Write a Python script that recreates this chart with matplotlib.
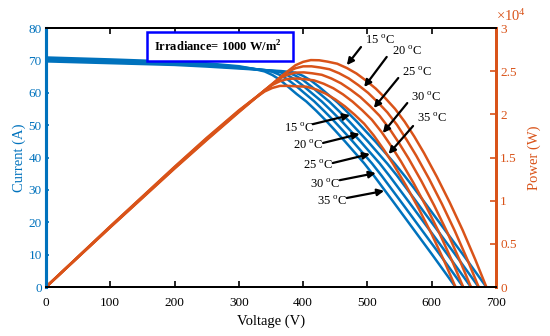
import numpy as np
import matplotlib
matplotlib.use('Agg')
import matplotlib.pyplot as plt
from matplotlib.ticker import FuncFormatter
from matplotlib.patches import Rectangle

plt.rcParams['font.family'] = ['Liberation Serif', 'DejaVu Serif']
plt.rcParams['mathtext.fontset'] = 'custom'
plt.rcParams['mathtext.rm'] = 'Liberation Serif'
plt.rcParams['mathtext.bf'] = 'Liberation Serif:bold'

blue = '#0072BD'
orange = '#D95319'

temps = ['15', '20', '25', '30', '35']

# I-V curves (voltage in V, current in A)
v15 = [0, 100, 200, 250, 300, 340, 366, 388, 400, 412, 425, 438, 453, 468, 483, 498, 513, 528,
       543, 558, 573, 588, 608, 628, 648, 668, 685]
i15 = [69.7, 69.15, 68.6, 68.1, 67.5, 67.0, 66.7, 66.2, 65.2, 63.8, 61.8, 59.6, 57.1, 54.2, 51.2,
       48.0, 44.8, 41.4, 38.0, 34.3, 30.4, 26.4, 21.0, 15.6, 10.2, 4.7, 0]

v20 = [0, 100, 200, 250, 300, 340, 376, 388, 400, 413, 426, 441, 456, 471, 486, 501, 516, 531,
       546, 561, 576, 596, 616, 636, 656, 673]
i20 = [70.0, 69.4, 68.85, 68.35, 67.7, 67.0, 66.3, 65.3, 63.9, 61.9, 59.7, 57.2, 54.3, 51.3, 48.1,
       44.9, 41.5, 38.1, 34.4, 30.4, 26.4, 21.0, 15.6, 10.2, 4.7, 0]

v25 = [0, 100, 200, 250, 300, 340, 364, 376, 388, 401, 414, 429, 444, 459, 474, 489, 504, 519,
       534, 549, 564, 584, 604, 624, 644, 661]
i25 = [70.3, 69.7, 69.1, 68.6, 67.85, 67.0, 66.4, 65.4, 64.0, 62.0, 59.8, 57.3, 54.4, 51.4, 48.2,
       45.0, 41.6, 38.2, 34.4, 30.4, 26.4, 21.0, 15.6, 10.2, 4.7, 0]

v30 = [0, 100, 200, 250, 300, 330, 352, 364, 376, 389, 402, 417, 432, 447, 462, 477, 492, 507,
       522, 537, 552, 572, 592, 612, 632, 649]
i30 = [70.6, 70.0, 69.35, 68.85, 68.0, 67.2, 66.5, 65.5, 64.1, 62.1, 59.9, 57.4, 54.5, 51.5, 48.3,
       45.0, 41.6, 38.2, 34.4, 30.4, 26.4, 21.0, 15.6, 10.2, 4.7, 0]

v35 = [0, 100, 200, 250, 300, 320, 340, 352, 364, 377, 390, 405, 420, 435, 450, 465, 480, 495,
       510, 525, 540, 560, 580, 600, 620, 637]
i35 = [70.9, 70.3, 69.6, 69.1, 68.2, 67.5, 66.6, 65.5, 64.0, 61.8, 59.6, 57.3, 54.5, 51.5, 48.3,
       45.0, 41.6, 38.2, 34.4, 30.4, 26.4, 21.0, 15.6, 10.2, 4.7, 0]

volts = [v15, v20, v25, v30, v35]
amps = [i15, i20, i25, i30, i35]

fig = plt.figure(figsize=(5.5, 3.36), dpi=100)
ax = fig.add_axes([0.0836, 0.1458, 0.8182, 0.7708])
ax2 = ax.twinx()

for v, i in zip(volts, amps):
    v = np.array(v)
    i = np.array(i)
    ax.plot(v, i, color=blue, lw=1.8)
    ax2.plot(v, v * i, color=orange, lw=1.8)

ax.set_xlim(0, 700)
ax.set_ylim(0, 80)
ax2.set_ylim(0, 30000)
ax.set_xticks(np.arange(0, 701, 100))
ax.set_yticks(np.arange(0, 81, 10))
ax2.set_yticks(np.arange(0, 30001, 5000))
ax2.yaxis.set_major_formatter(FuncFormatter(lambda p, pos: '%g' % (p / 1e4)))

ax.tick_params(axis='x', direction='in', length=4, width=1.2, top=True, labelsize=9.5, colors='black', pad=7)
ax.tick_params(axis='y', direction='in', length=2, width=1.2, labelsize=9.5, colors=blue, pad=3)
ax2.tick_params(axis='y', direction='in', length=4, width=1.2, labelsize=9.5, colors=orange, pad=3)

for a in (ax, ax2):
    a.spines['left'].set_color(blue)
    a.spines['left'].set_linewidth(2.2)
    a.spines['right'].set_color(orange)
    a.spines['right'].set_linewidth(2.0)
    a.spines['top'].set_linewidth(1.4)
    a.spines['bottom'].set_linewidth(1.4)

ax.set_xlabel('Voltage (V)', fontsize=10.5, labelpad=4)
ax.set_ylabel('Current (A)', fontsize=10.5, color=blue, labelpad=2)
ax2.set_ylabel('Power (W)', fontsize=10.5, color=orange, labelpad=8)
ax2.text(1.0, 1.015, r'$\times\mathregular{10^4}$', transform=ax2.transAxes, color=orange,
         fontsize=10.5, ha='left', va='bottom')

# irradiance box
ax.add_patch(Rectangle((157, 69.8), 227, 9.0, fc='white', ec='blue', lw=1.8, zorder=5))
ax.text(168, 74.3, r'Irradiance= 1000 W/m$^\mathbf{2}$', fontsize=9, fontweight='bold',
        ha='left', va='center', zorder=6)

# current arrows (left axis)
low_text = [(394, 49.1), (408, 43.6), (423, 37.4), (434, 31.8), (445, 26.3)]
low_tail = [(415, 50.3), (431, 44.5), (446, 38.3), (457, 33.0), (468, 27.5)]
low_head = [(473, 53.1), (488, 47.3), (504, 41.1), (513, 35.2), (526, 29.7)]
for t, tp, tl, hd in zip(temps, low_text, low_tail, low_head):
    ax.annotate('', xy=hd, xytext=tl,
                arrowprops=dict(arrowstyle='-|>', color='black', lw=1.6, mutation_scale=10, shrinkA=0, shrinkB=0))
    ax.text(tp[0], tp[1], t + r' $^{\mathregular{o}}$C', fontsize=9, ha='center', va='center')

# power arrows (right axis)
up_text = [(519, 28550), (561, 27280), (577, 24850), (591, 22010), (601, 19575)]
up_tail = [(490, 27800), (530, 26650), (548, 24210), (562, 21310), (571, 18650)]
up_head = [(468, 25700), (495, 23170), (510, 20740), (524, 17840), (533, 15410)]
for t, tp, tl, hd in zip(temps, up_text, up_tail, up_head):
    ax2.annotate('', xy=hd, xytext=tl,
                 arrowprops=dict(arrowstyle='-|>', color='black', lw=1.6, mutation_scale=10, shrinkA=0, shrinkB=0))
    ax2.text(tp[0], tp[1], t + r' $^{\mathregular{o}}$C', fontsize=9, ha='center', va='center')

fig.savefig('out.png', dpi=100)
